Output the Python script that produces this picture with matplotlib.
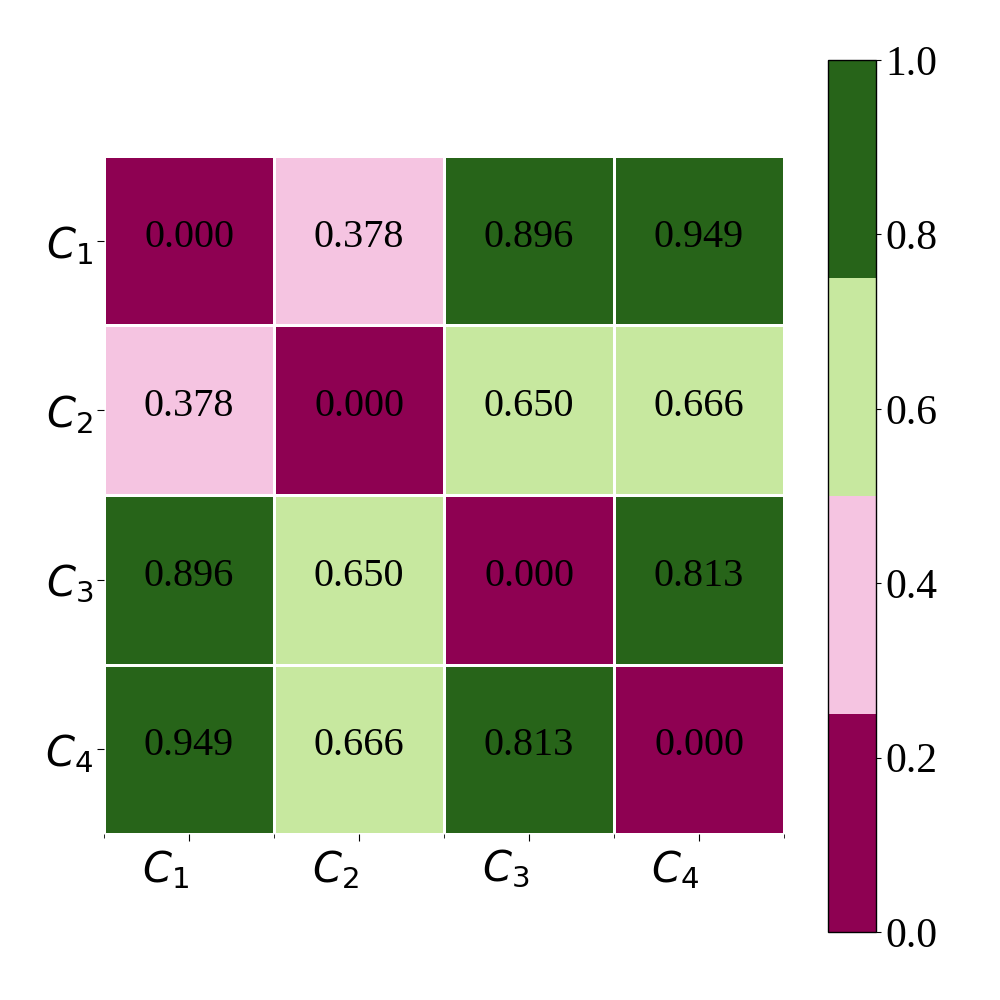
import numpy as np
import matplotlib
matplotlib.use("Agg")
import matplotlib.pyplot as plt
from matplotlib.ticker import FixedLocator

labels = [r"$C_1$", r"$C_2$", r"$C_3$", r"$C_4$"]
values = [
    [0.000, 0.378, 0.896, 0.949],
    [0.378, 0.000, 0.650, 0.666],
    [0.896, 0.650, 0.000, 0.813],
    [0.949, 0.666, 0.813, 0.000],
]
cbar_ticks = [0.0, 0.2, 0.4, 0.6, 0.8, 1.0]

data = np.array(values)
n = len(labels)
cmap = plt.get_cmap("PiYG", 4)

fig = plt.figure(figsize=(10, 10), dpi=100)
ax = fig.add_axes([0.104, 0.166, 0.680, 0.678])
cax = fig.add_axes([0.828, 0.068, 0.048, 0.872])

mesh = ax.pcolormesh(np.arange(n + 1), np.arange(n + 1), data, cmap=cmap,
                     vmin=0, vmax=1, edgecolors="white", linewidth=2)
ax.set_xlim(0, n)
ax.set_ylim(n, 0)
for s in ax.spines.values():
    s.set_visible(False)

for i in range(n):
    for j in range(n):
        ax.text(j + 0.5, i + 0.48, f"{data[i, j]:.3f}", ha="center", va="center",
                fontsize=29, family="Liberation Serif", color="black")

ax.set_xticks(np.arange(n) + 0.5)
ax.set_yticks(np.arange(n) + 0.5)
ax.set_xticklabels(labels, fontsize=30, ha="right")
ax.set_yticklabels(labels, fontsize=30, rotation=0)
ax.xaxis.set_minor_locator(FixedLocator(np.arange(n + 1)))
ax.tick_params(axis="x", which="major", length=5, pad=5)
ax.tick_params(axis="x", which="minor", length=3)
ax.tick_params(axis="y", which="major", length=5, pad=3)

cb = fig.colorbar(mesh, cax=cax, ticks=cbar_ticks)
cb.outline.set_linewidth(1)
cb.ax.set_yticklabels([f"{t:.1f}" for t in cbar_ticks], family="Liberation Serif", fontsize=30)

fig.savefig("out.png", dpi=100)
